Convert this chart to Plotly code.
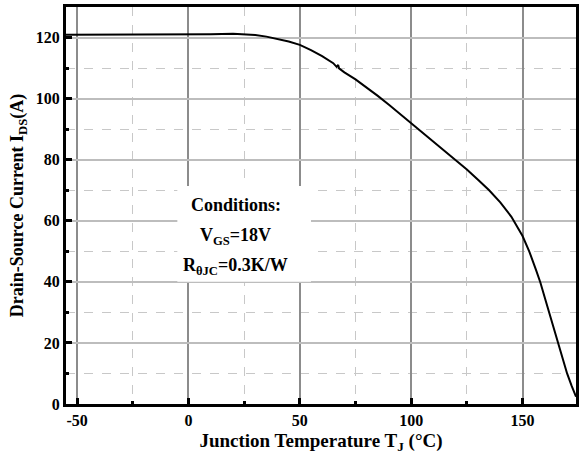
import plotly.graph_objects as go

# Junction temperature (°C)
temp = [-55, -30, -10, 0, 10, 20, 25, 30, 35, 40, 45, 50, 55, 60, 65, 66.5, 67.2, 67.6,
        70, 75, 80, 85, 90, 95, 100, 105, 110, 115, 120, 125, 130, 135, 140, 145, 150,
        153, 156, 158, 160, 162, 164, 166, 168, 170, 172, 174]
# Drain-source current (A)
current = [120.9, 120.9, 121.0, 121.0, 121.1, 121.2, 121.1, 120.8, 120.3, 119.6, 118.7,
           117.6, 115.9, 113.9, 111.6, 110.4, 111.0, 109.9, 108.6, 106.3, 103.7, 100.9,
           98.0, 95.0, 92.0, 88.9, 85.9, 83.0, 80.1, 76.8, 73.4, 70.0, 66.0, 61.3, 55.0,
           50.0, 44.0, 39.8, 34.8, 29.7, 24.8, 20.0, 15.0, 10.0, 6.0, 2.4]

x_ticks = [-50, 0, 50, 100, 150]
x_tick_labels = ["-50", "0", "50", "100", "150"]
y_ticks = [0, 20, 40, 60, 80, 100, 120]
y_tick_labels = ["0", "20", "40", "60", "80", "100", "120"]

cond_lines = ["<b>Conditions:</b>", "<b>V<sub>GS</sub>=18V</b>", "<b>R<sub>θJC</sub>=0.3K/W</b>"]
cond_y = [65.2, 55.0, 44.9]

FONT = "Liberation Serif"

fig = go.Figure()
fig.add_trace(go.Scatter(x=temp, y=current, mode="lines",
                         line=dict(color="black", width=2), showlegend=False))

fig.add_shape(type="rect", xref="x", yref="y", x0=-5, x1=55, y0=40, y1=71.4,
              fillcolor="white", line=dict(width=0), layer="above")
for t, yy in zip(cond_lines, cond_y):
    fig.add_annotation(x=21.3, y=yy, xref="x", yref="y", text=t, showarrow=False,
                       font=dict(family=FONT, size=18, color="black"))

fig.update_layout(
    width=579, height=459,
    margin=dict(l=66, r=0, t=7, b=55),
    paper_bgcolor="white", plot_bgcolor="white",
    font=dict(family=FONT, color="black"),
    xaxis=dict(
        range=[-55, 174], tickmode="array", tickvals=x_ticks,
        ticktext=["<b>%s</b>" % s for s in x_tick_labels],
        ticks="inside", ticklen=6, tickwidth=3, tickcolor="black",
        showline=True, linewidth=3, linecolor="black", mirror=True,
        showgrid=True, gridcolor="#8c8c8c", gridwidth=1.5, zeroline=False,
        tickfont=dict(family=FONT, size=16, color="black"),
        minor=dict(dtick=25, tick0=0, ticks="inside", ticklen=3, tickwidth=2.5,
                   tickcolor="black", showgrid=True, gridcolor="#c8c8c8",
                   griddash="dash", gridwidth=1),
        title=dict(text="<b>Junction Temperature T<sub>J</sub> (°C)</b>",
                   font=dict(family=FONT, size=19, color="black"), standoff=6),
    ),
    yaxis=dict(
        range=[0, 130], tickmode="array", tickvals=y_ticks,
        ticktext=["<b>%s</b>" % s for s in y_tick_labels],
        ticks="inside", ticklen=6, tickwidth=3, tickcolor="black",
        showline=True, linewidth=3, linecolor="black", mirror=True,
        showgrid=True, gridcolor="#bdbdbd", gridwidth=1.5, zeroline=False,
        tickfont=dict(family=FONT, size=16, color="black"),
        minor=dict(dtick=10, tick0=0, ticks="inside", ticklen=3, tickwidth=2.5,
                   tickcolor="black", showgrid=True, gridcolor="#c8c8c8",
                   griddash="dash", gridwidth=1),
        title=dict(text="<b>Drain-Source Current I<sub>DS</sub>(A)</b>",
                   font=dict(family=FONT, size=18, color="black"), standoff=8),
    ),
)

fig.write_html("out.html")
